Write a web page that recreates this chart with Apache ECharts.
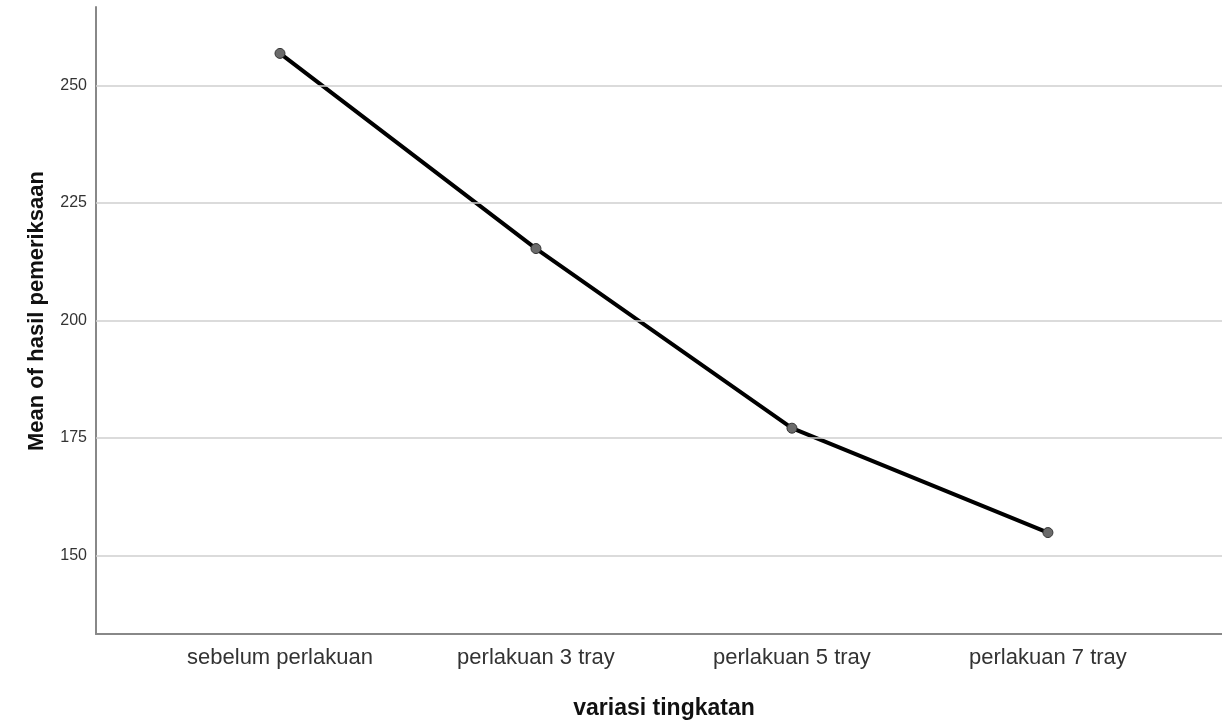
<!DOCTYPE html>
<html>
<head>
<meta charset="utf-8">
<script src="https://cdn.jsdelivr.net/npm/echarts@6/dist/echarts.min.js"></script>
<style>html,body{margin:0;padding:0;background:#fff;}#c{width:1222px;height:725px;}</style>
</head>
<body>
<div id="c"></div>
<script>
var categories = ['sebelum perlakuan', 'perlakuan 3 tray', 'perlakuan 5 tray', 'perlakuan 7 tray'];
var meanValues = [256.8, 215.3, 177.1, 154.9];
var yTicks = [150, 175, 200, 225, 250];

var chart = echarts.init(document.getElementById('c'));
var font = '"Liberation Sans", Arial, sans-serif';
chart.setOption({
  animation: false,
  grid: { left: 96, right: 0, top: 7, bottom: 90, containLabel: false },
  xAxis: {
    type: 'value',
    min: -0.71875,
    max: 3.68,
    name: 'variasi tingkatan',
    nameLocation: 'middle',
    nameGap: 63,
    nameTextStyle: { fontFamily: font, fontSize: 23, fontWeight: 'bold', color: '#111', padding: [0, 0, 0, 10] },
    axisLine: { show: true, onZero: false, lineStyle: { color: '#888', width: 2 } },
    axisTick: { show: false },
    splitLine: { show: false },
    axisLabel: {
      customValues: [0, 1, 2, 3],
      formatter: function (v) { return categories[Math.round(v)]; },
      fontFamily: font, fontSize: 22, color: '#333', margin: 13
    }
  },
  yAxis: {
    type: 'value',
    min: 133.33,
    max: 266.67,
    name: 'Mean of hasil pemeriksaan',
    nameLocation: 'middle',
    nameGap: 48,
    nameTextStyle: { fontFamily: font, fontSize: 22, fontWeight: 'bold', color: '#111', padding: [0, 0, 0, 19] },
    axisLine: { show: true, onZero: false, lineStyle: { color: '#888', width: 2 } },
    axisTick: { show: false },
    axisLabel: {
      customValues: yTicks,
      fontFamily: font, fontSize: 16, color: '#333', margin: 9
    },
    splitLine: { show: false }
  },
  series: [
    {
      type: 'line',
      data: [],
      markLine: {
        silent: true, symbol: 'none', label: { show: false },
        lineStyle: { color: '#cfcfcf', width: 1.5, type: 'solid' },
        data: yTicks.map(function (t) { return { yAxis: t }; })
      },
      z: 1
    },
    {
      type: 'line',
      data: meanValues.map(function (v, i) { return [i, v]; }),
      lineStyle: { color: '#000', width: 4 },
      symbol: 'circle',
      symbolSize: 10,
      itemStyle: { color: '#6b6b6b', borderColor: '#333', borderWidth: 1 },
      z: 3
    }
  ]
});
</script>
</body>
</html>
